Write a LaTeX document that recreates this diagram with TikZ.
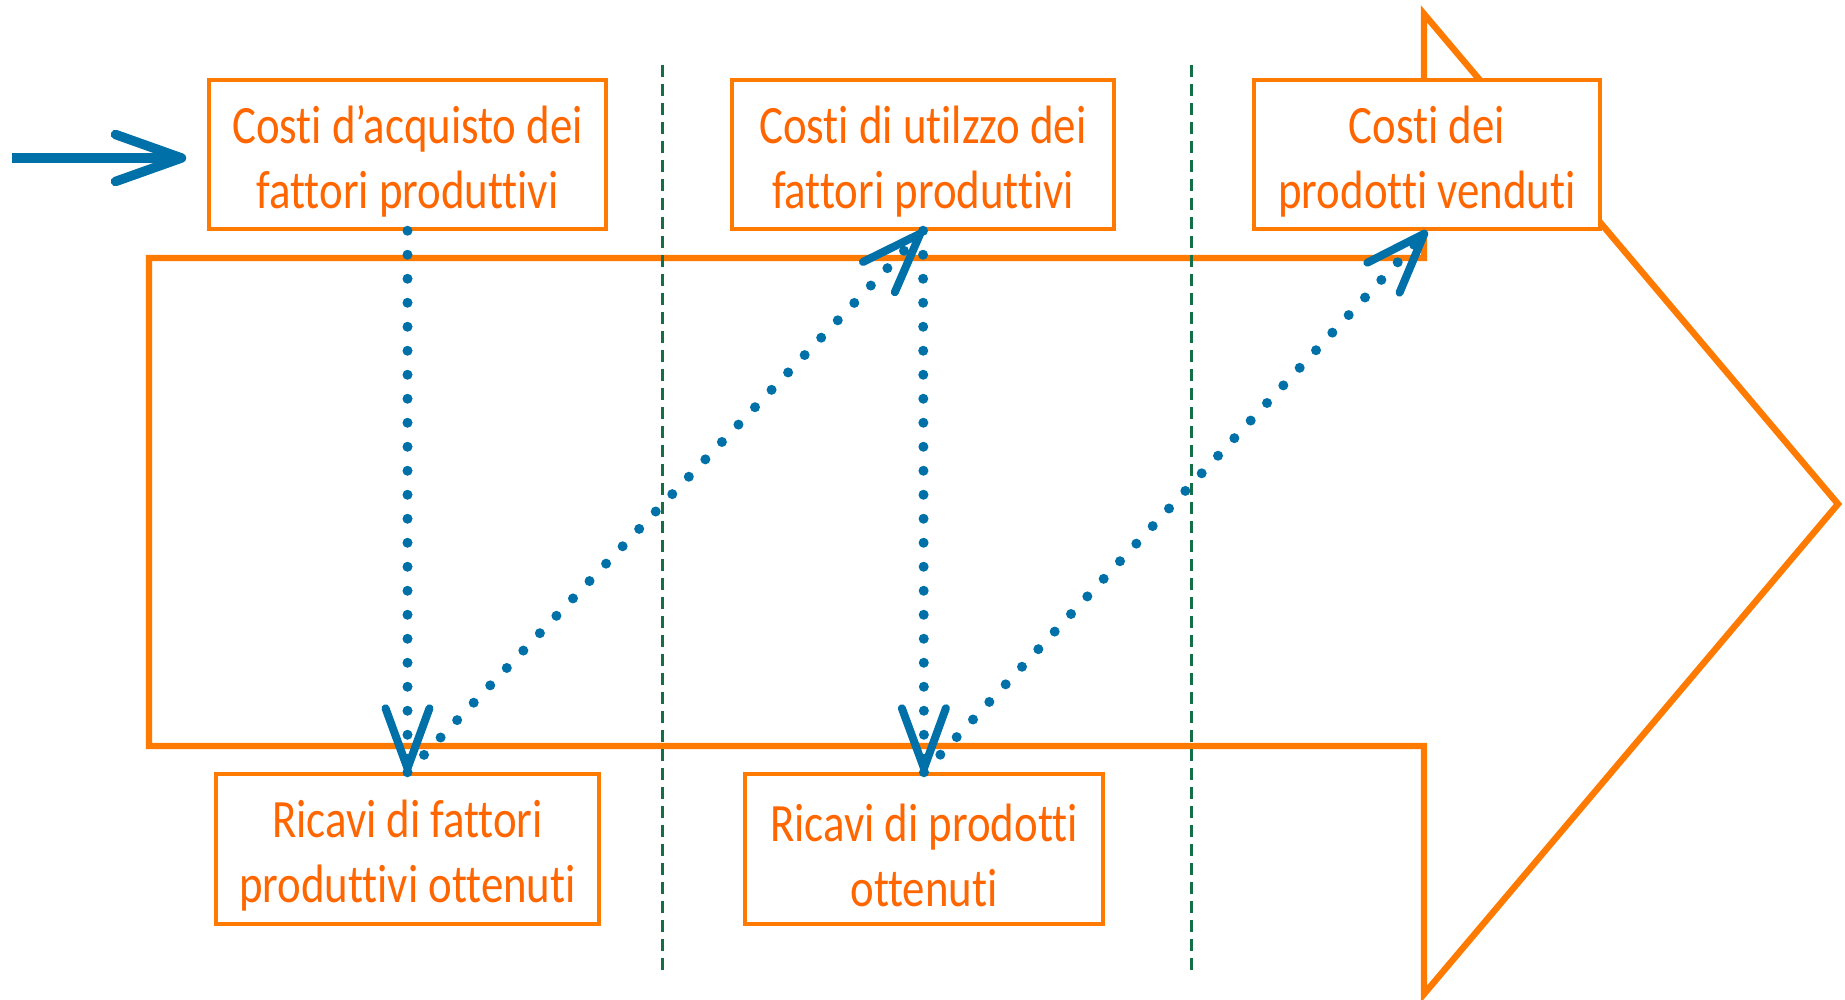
\documentclass[tikz,border=0pt]{standalone}
\usepackage{fontspec}
\setmainfont{Carlito}[FakeStretch=0.83, Ligatures=NoCommon]
\usepackage{tikz}
\usetikzlibrary{arrows.meta}
\definecolor{flowOrange}{RGB}{255,122,0}
\definecolor{textOrange}{RGB}{255,102,0}
\definecolor{flowBlue}{RGB}{0,112,168}
\definecolor{phaseGreen}{RGB}{20,110,70}
\newcommand{\pxUnit}{0.5pt}
\newcommand{\twoLines}[2]{\rule{0pt}{25.5pt}#1\\#2}

\begin{document}
\begin{tikzpicture}[x=\pxUnit, y=-\pxUnit]
  \tikzset{every node/.style={font=\fontsize{27}{32.5}\selectfont, text=textOrange, align=center},
    cost box/.style={draw=flowOrange, line width=1.75pt, fill=white, minimum height=74.5pt, inner sep=0pt},
    flow/.style={flowBlue, line width=5pt, line cap=round, dash pattern=on 0pt off 12pt,
      -{Straight Barb[round, length=30pt, width=22pt, line width=4pt]}},
    phase/.style={phaseGreen, line width=1.5pt, dash pattern=on 6pt off 3.5pt}}
  \useasboundingbox (0,0) rectangle (1845,1000);
  \draw[flowOrange, line width=3.2pt] (149,258) -- (1424,258) -- (1424,14) -- (1838,504)
    -- (1424,994) -- (1424,746) -- (149,746) -- cycle;
  \draw[phase] (662,65) -- (662,971);
  \draw[phase] (1191,65) -- (1191,971);
  \node[cost box, minimum width=198.5pt] (costi-1) at (407.5,154.5) {\twoLines{Costi d’acquisto dei}{fattori produttivi}};
  \node[cost box, minimum width=191pt] (costi-2) at (923,154.5) {\twoLines{Costi di utilzzo dei}{fattori produttivi}};
  \node[cost box, minimum width=173pt] (costi-3) at (1427,154.5) {\twoLines{Costi dei}{prodotti venduti}};
  \node[cost box, minimum width=191.5pt, minimum height=75pt] (ricavi-1) at (407.5,849) {\twoLines{Ricavi di fattori}{produttivi ottenuti}};
  \node[cost box, minimum width=179pt, minimum height=75pt] (ricavi-2) at (924,849) {\twoLines{Ricavi di prodotti}{ottenuti}};
  \coordinate (entrata) at (12,158);
  \draw[flowBlue, line width=4.75pt, shorten >=10.5pt,
    -{Straight Barb[round, length=33pt, width=23.5pt, line width=4.75pt]}] (entrata) -- (entrata -| costi-1.west);
  \draw[flow] (costi-1.south) -- (ricavi-1.north);
  \draw[flow] (ricavi-1.north) -- (costi-2.south);
  \draw[flow] (costi-2.south) -- (ricavi-2.north);
  \draw[flow] (ricavi-2.north) -- (costi-3.south);
\end{tikzpicture}
\end{document}
